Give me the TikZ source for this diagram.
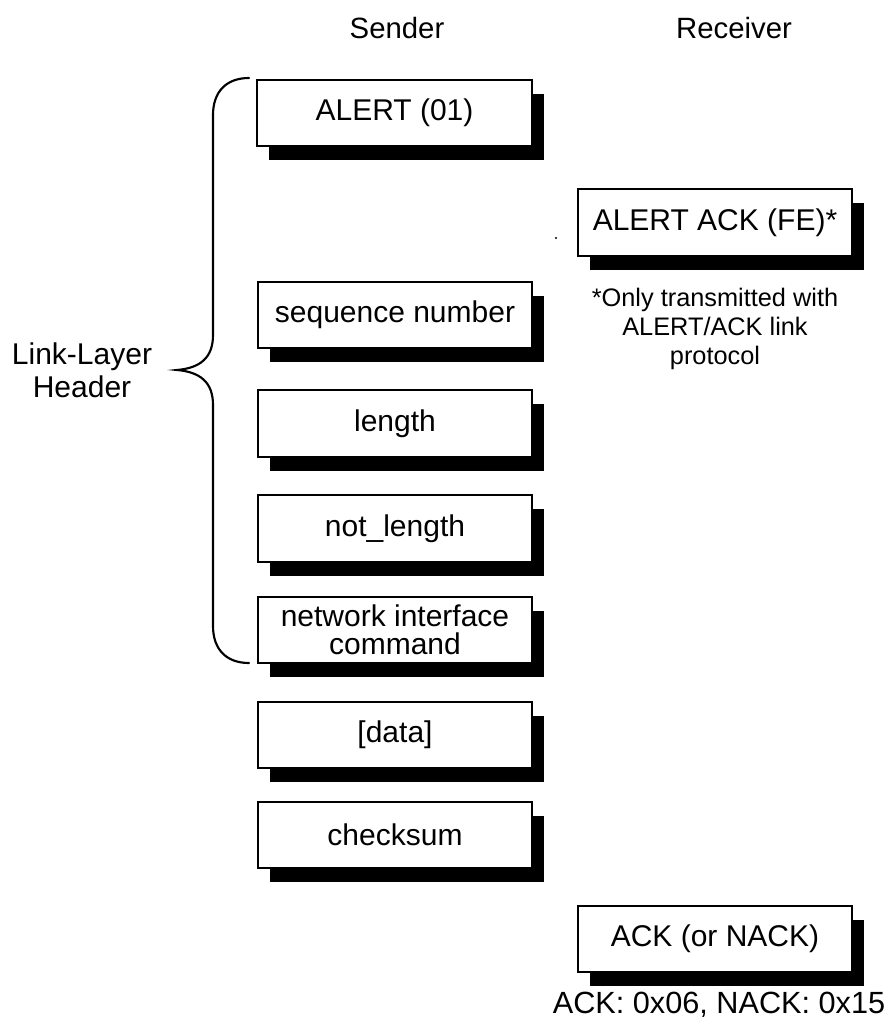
\documentclass[tikz,border=0pt]{standalone}
\usepackage{fontspec}
\setmainfont{Liberation Sans}
\usetikzlibrary{shadows}
\begin{document}
\begin{tikzpicture}[x=0.75pt,y=-0.75pt,
  field/.style={draw, line width=1.5pt, fill=white, inner sep=0pt,
    minimum width=206pt, minimum height=50pt, align=center,
    font=\fontsize{22.5}{21}\selectfont,
    general shadow={fill=black, shadow xshift=9pt, shadow yshift=-10.5pt}},
  head/.style={font=\fontsize{22}{26}\selectfont, inner sep=0pt},
  note/.style={font=\fontsize{19}{21.5}\selectfont, align=center, inner sep=0pt},
  bracepath/.style={line width=1.6pt, line cap=round}]
\useasboundingbox (0,0) rectangle (890,1025);

% column headings
\node[head, anchor=base] (snd) at (397,38) {Sender};
\node[head, anchor=base] (rcv) at (734,38) {Receiver};

% sender frame fields
\node[field] (alert) at (394.5,113) {ALERT (01)};
\node[field] (seq)   at (395,315)   {sequence number};
\node[field] (len)   at (395,423.5) {length};
\node[field] (nlen)  at (395,528.5) {not\_length};
\node[field] (nic)   at (395,630)   {network interface\\command};
\node[field] (data)  at (395,735)   {[data]};
\node[field] (csum)  at (395,835)   {checksum};

% receiver replies
\node[field] (aack)  at (715,222.5) {ALERT ACK (FE)*};
\node[note] (fn) at (715,329) {*Only transmitted with\\ALERT/ACK link\\protocol};
\node[field] (ack)   at (715,939)   {ACK (or NACK)};
\node[font=\fontsize{23}{26}\selectfont, inner sep=0pt, anchor=base] (codes) at (719,1013) {ACK: 0x06, NACK: 0x15};

% speck left of the alert-ack field
\fill (556,238) circle (1.1);

% brace grouping the link-layer header
\coordinate (btop) at (249,78);
\coordinate (bbot) at (249,663);
\draw[bracepath] (btop) .. controls (226,78) and (213,92) .. (213,115)
  -- (213,335) .. controls (213,358) and (200,368) .. (177,370)
  .. controls (200,372) and (213,382) .. (213,405)
  -- (213,626) .. controls (213,649) and (226,663) .. (bbot);
\node[font=\fontsize{22.5}{24.75}\selectfont, align=center, inner sep=0pt] (llh) at (82,370) {Link-Layer\\Header};
\end{tikzpicture}
\end{document}
